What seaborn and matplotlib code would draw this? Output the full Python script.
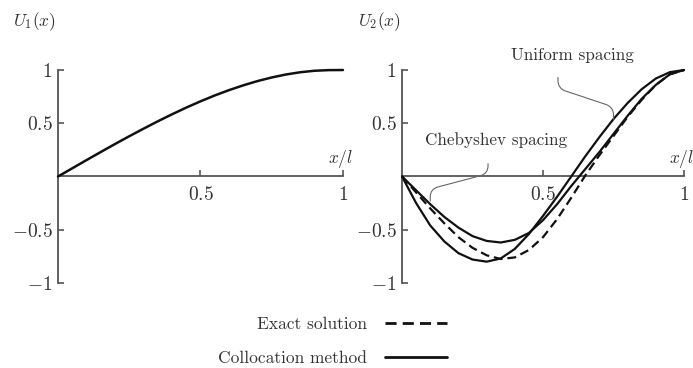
import matplotlib
matplotlib.use("Agg")
import matplotlib.pyplot as plt
from matplotlib.lines import Line2D
import seaborn as sns

# values
x_pos = [0.00, 0.05, 0.10, 0.15, 0.20, 0.25, 0.30, 0.35, 0.40, 0.45, 0.50,
         0.55, 0.60, 0.65, 0.70, 0.75, 0.80, 0.85, 0.90, 0.95, 1.00]

u1_mode = [0.00, 0.077, 0.154, 0.230, 0.305, 0.378, 0.449, 0.518, 0.584, 0.647, 0.706,
           0.761, 0.811, 0.856, 0.896, 0.930, 0.958, 0.979, 0.993, 0.999, 1.00]

u2_exact = [0.00, -0.15, -0.30, -0.44, -0.57, -0.67, -0.74, -0.775, -0.76, -0.69, -0.57,
            -0.40, -0.20, 0.01, 0.20, 0.38, 0.56, 0.72, 0.86, 0.96, 1.00]
u2_uniform = [0.00, -0.25, -0.46, -0.61, -0.72, -0.78, -0.80, -0.77, -0.68, -0.54, -0.37,
              -0.19, 0.00, 0.19, 0.37, 0.54, 0.69, 0.82, 0.92, 0.98, 1.00]
u2_cheb = [0.00, -0.13, -0.26, -0.38, -0.48, -0.56, -0.605, -0.62, -0.595, -0.53, -0.41,
           -0.26, -0.09, 0.07, 0.23, 0.40, 0.57, 0.73, 0.86, 0.96, 1.00]

y_ticks = [-1, -0.5, 0.5, 1]
y_labels = ["$-1$", "$-0.5$", "$0.5$", "$1$"]
x_ticks = [0.5, 1]
x_labels = ["$0.5$", "$1$"]

sns.set_theme(style="white")
plt.rcParams["font.family"] = ["cmr10", "DejaVu Serif"]
plt.rcParams["mathtext.fontset"] = "cm"
plt.rcParams["axes.formatter.use_mathtext"] = True

text_col = "#333333"
axis_col = "#555555"
line_col = "#111111"

fig = plt.figure(figsize=(6.93, 3.68), dpi=100)
ax1 = fig.add_axes([0.0755, 0.2166, 0.4358, 0.6076])
ax2 = fig.add_axes([0.5720, 0.2166, 0.4313, 0.6076])


def style_axis(ax):
    ax.set_xlim(-0.02, 1.04)
    ax.set_ylim(-1.05, 1.05)
    for s in ["top", "right"]:
        ax.spines[s].set_visible(False)
    for s in ["left", "bottom"]:
        ax.spines[s].set_position(("data", 0))
        ax.spines[s].set_color(axis_col)
        ax.spines[s].set_linewidth(1.3)
        ax.spines[s].set_zorder(1)
    ax.spines["left"].set_bounds(-1, 1)
    ax.spines["bottom"].set_bounds(0, 1)
    ax.set_yticks(y_ticks, y_labels)
    ax.set_xticks(x_ticks, x_labels)
    ax.tick_params(axis="y", left=True, direction="in", length=4, width=1.2,
                   color=axis_col, pad=4, labelsize=14, labelcolor=text_col)
    ax.tick_params(axis="x", bottom=True, direction="in", length=4, width=1.2,
                   color=axis_col, pad=7, labelsize=14, labelcolor=text_col)
    ax.set_xlabel("")
    ax.set_ylabel("")
    ax.text(0.99, 0.06, "$x/l$", ha="center", va="bottom", fontsize=12.5, color=text_col)


# left panel
sns.lineplot(x=x_pos, y=u1_mode, ax=ax1, color=line_col, lw=1.8)
style_axis(ax1)

# right panel
sns.lineplot(x=x_pos, y=u2_uniform, ax=ax2, color=line_col, lw=1.6)
sns.lineplot(x=x_pos, y=u2_cheb, ax=ax2, color=line_col, lw=1.6)
sns.lineplot(x=x_pos, y=u2_exact, ax=ax2, color=line_col, lw=1.6)
ax2.lines[-1].set_dashes((4, 2.2))
style_axis(ax2)

for ln in ax1.lines + ax2.lines:
    ln.set_clip_on(False)
    ln.set_zorder(3)

ax2.text(0.605, 1.136, "Uniform spacing", ha="center", va="center",
         fontsize=12.3, color=text_col)
ax2.text(0.333, 0.338, "Chebyshev spacing", ha="center", va="center",
         fontsize=12.3, color=text_col)

# pointer lines
ax2.annotate("", xy=(x_pos[15], u2_uniform[15]), xytext=(0.553, 0.93),
             arrowprops=dict(arrowstyle="-", color="#666666", lw=0.8,
                             shrinkA=0, shrinkB=0,
                             connectionstyle="arc,angleA=-90,angleB=90,armA=11,armB=12,rad=8"))
ax2.annotate("", xy=(x_pos[2], u2_cheb[2] + 0.03), xytext=(0.305, 0.12),
             arrowprops=dict(arrowstyle="-", color="#666666", lw=0.8,
                             shrinkA=0, shrinkB=0,
                             connectionstyle="arc,angleA=-90,angleB=90,armA=10,armB=12,rad=8"))

fig.text(56 / 693, 1 - 22 / 368, "$U_1(x)$", ha="right", va="center",
         fontsize=12.5, color=text_col)
fig.text(401 / 693, 1 - 22 / 368, "$U_2(x)$", ha="right", va="center",
         fontsize=12.5, color=text_col)

handles = [Line2D([], [], color=line_col, lw=2, dashes=(4, 2.2)),
           Line2D([], [], color=line_col, lw=2)]
fig.legend(handles, ["Exact solution", "Collocation method"],
           loc="upper right", bbox_to_anchor=(447 / 693, 1 - 317 / 368),
           frameon=False, markerfirst=False, alignment="right",
           fontsize=12.5, labelcolor=text_col, handlelength=3.57,
           handletextpad=1.04, labelspacing=1.04, borderpad=0, borderaxespad=0)

fig.savefig("out.png", dpi=100)
